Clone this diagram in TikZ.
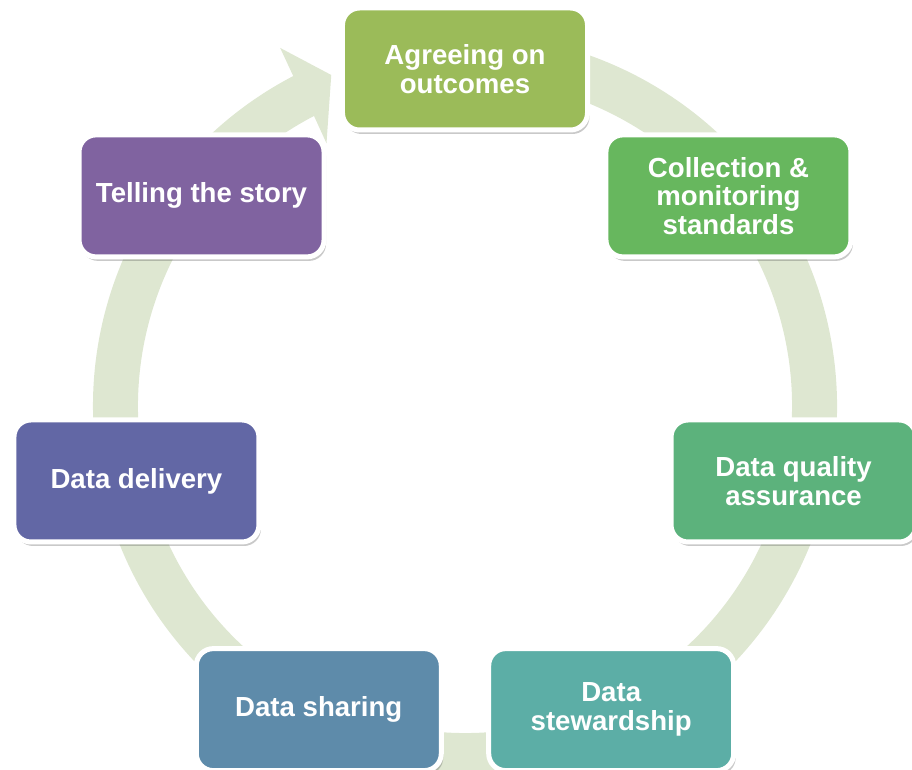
\documentclass[tikz,border=0pt]{standalone}
\usepackage{fontspec}
\setmainfont{Liberation Sans}
\usetikzlibrary{shadows}
\definecolor{ringc}{RGB}{222,231,209}
\definecolor{cA}{RGB}{155,187,89}
\definecolor{cB}{RGB}{103,183,94}
\definecolor{cC}{RGB}{92,178,124}
\definecolor{cD}{RGB}{92,174,166}
\definecolor{cE}{RGB}{94,139,170}
\definecolor{cF}{RGB}{98,103,165}
\definecolor{cG}{RGB}{128,99,160}
\begin{document}
\begin{tikzpicture}[x=1pt,y=1pt,
  stagebox/.style={rounded corners=17pt, draw=white, line width=5pt,
    minimum width=245pt, minimum height=122pt, text=white, inner sep=0pt,
    font=\fontsize{27.6}{28.6}\selectfont\bfseries, align=center,
    drop shadow={shadow xshift=2pt, shadow yshift=-4pt, opacity=0.3, fill=black!70}}]
\useasboundingbox (-465,-363) rectangle (447,406);
\clip (-465,-363) rectangle (447,406);
% circular arrow
\fill[ringc] (100:372) arc[start angle=100, end angle=-242.5, radius=372]
  -- (117.3:403) -- (112:357) -- (117.8:297) -- (117.5:327)
  arc[start angle=-242.5, end angle=100, radius=327] -- cycle;
% stages
\node[stagebox, fill=cA] (a1) at (90:337) {Agreeing on\\outcomes};
\node[stagebox, fill=cB] (a2) at (38.571:337) {Collection \&\\monitoring\\standards};
\node[stagebox, fill=cC] (a3) at (-12.857:337) {Data quality\\assurance};
\node[stagebox, fill=cD] (a4) at (-64.286:337) {Data\\stewardship};
\node[stagebox, fill=cE] (a5) at (-115.714:337) {Data sharing};
\node[stagebox, fill=cF] (a6) at (-167.143:337) {Data delivery};
\node[stagebox, fill=cG] (a7) at (141.429:337) {Telling the story};
\end{tikzpicture}
\end{document}
